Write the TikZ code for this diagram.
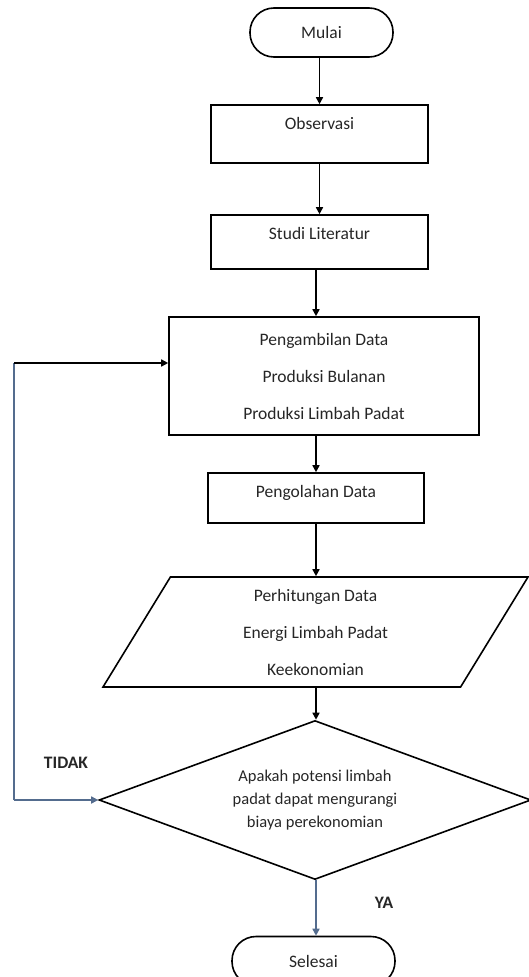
\documentclass[tikz,border=0pt]{standalone}
\usepackage{fontspec}
\setmainfont{Carlito}
\usetikzlibrary{shapes.geometric,arrows.meta,calc}
\definecolor{garisbiru}{RGB}{84,108,142}
\tikzset{
  every node/.style={font=\fontsize{17.5}{37}\selectfont, text=black!85},
  terminal/.style={draw, line width=1.6pt, rectangle, rounded corners=24pt,
    minimum width=#1, minimum height=49pt, inner sep=0pt},
  proses/.style={draw, line width=1.6pt, rectangle, inner xsep=0pt,
    inner ysep=0pt, text height=24pt},
  databox/.style={draw, line width=1.6pt, rectangle, align=center, inner sep=0pt},
  hitung/.style={draw, line width=1.6pt, trapezium, trapezium left angle=52,
    trapezium right angle=128, trapezium stretches body, align=center,
    minimum width=425pt, minimum height=110pt, inner sep=0pt},
  keputusan/.style={draw, line width=1.6pt, diamond, aspect=2.7, align=center,
    minimum width=432pt, minimum height=159pt, inner sep=0pt,
    font=\fontsize{16.5}{23}\selectfont},
  jawab/.style={font=\fontsize{17.5}{20}\selectfont\bfseries},
  panah/.style={line width=1.6pt, -{Triangle[length=7pt,width=7pt]}},
  garis/.style={line width=1.6pt, garisbiru},
  panahbiru/.style={garis, -{Triangle[length=7pt,width=7pt]}}
}
\begin{document}
\begin{tikzpicture}[x=1pt,y=-1pt]
  \useasboundingbox (0,0) rectangle (528,977);
  \node[terminal=143pt] (mulai) at (321.5,32.5) {Mulai};
  \node[proses, minimum width=217pt, text depth=34pt] (observasi) at (319.5,134) {Observasi};
  \node[proses, minimum width=217pt, text depth=30pt] (studi) at (319.5,242) {Studi Literatur};
  \node[databox, minimum width=310pt, minimum height=118pt] (data) at (324,376)
    {Pengambilan Data\\Produksi Bulanan\\Produksi Limbah Padat};
  \node[proses, minimum width=216pt, text depth=26pt] (olah) at (316,498) {Pengolahan Data};
  \node[hitung] (hitung) at (315.5,632)
    {Perhitungan Data\\Energi Limbah Padat\\Keekonomian};
  \node[keputusan] (cek) at (315,800)
    {Apakah potensi limbah\\padat dapat mengurangi\\biaya perekonomian};
  \node[terminal=163pt] (selesai) at (313.5,961) {Selesai};

  \node[jawab] (tidak) at (66,763) {TIDAK};
  \node[jawab] (ya) at (384,903) {YA};

  \draw[panah] (mulai.south -| observasi) -- (observasi.north);
  \draw[panah] (observasi) -- (studi);
  \draw[panah] (studi.south -| olah) -- (data.north -| olah);
  \draw[panah] (data.south -| olah) -- (olah.north);
  \draw[panah] (olah.south) -- (hitung.north -| olah);
  \draw[panah] (hitung.south -| olah) -- (cek.north -| olah);
  \draw[panahbiru] (cek.south -| olah) -- (selesai.north -| olah);

  % jalur kembali jika TIDAK
  \coordinate (bawah) at (14,800);
  \coordinate (atas) at (14,363);
  \draw[panahbiru] (bawah) -- (cek.west);
  \draw[garis] (bawah) -- (atas);
  \draw[panah] (atas) -- (atas -| data.west);
\end{tikzpicture}
\end{document}
